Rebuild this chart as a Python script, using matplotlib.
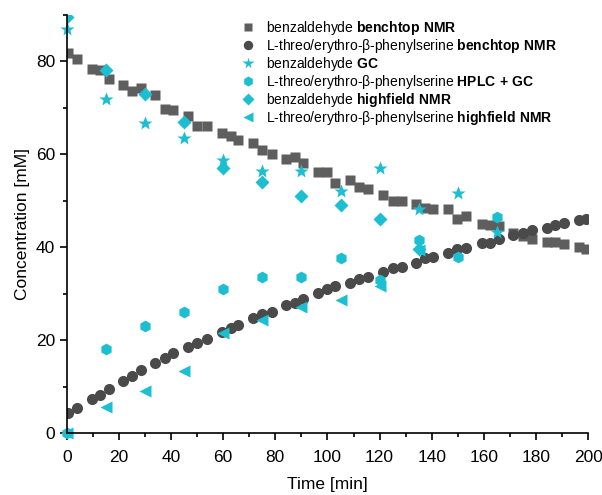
import matplotlib
matplotlib.use("Agg")
import matplotlib.pyplot as plt
from matplotlib.ticker import MultipleLocator

plt.rcParams['font.family'] = ['Liberation Sans', 'DejaVu Sans']
plt.rcParams['mathtext.fontset'] = 'custom'
plt.rcParams['mathtext.rm'] = 'Liberation Sans'
plt.rcParams['mathtext.bf'] = 'Liberation Sans:bold'

# benchtop NMR (time in min)
t_bench = [0.5, 4, 9.6, 12.7, 16, 21.5, 25, 28.5, 34, 37.6, 40.7, 46.5, 50, 53.6,
           59.7, 62.8, 65.8, 71.5, 75, 78.7, 84, 87.5, 90.6, 96.4, 99.8, 103,
           108.6, 112, 115.5, 121.3, 125, 128.6, 134, 137.4, 140.5, 146.2, 149.8,
           153.2, 159.3, 162.4, 165.8, 171.2, 175, 178.5, 184.3, 187.3, 190.8,
           196.5, 199]
benz_bench = [81.8, 80.5, 78.4, 78.2, 76.3, 75.0, 73.6, 74.3, 72.8, 69.8, 69.5, 68.2,
              66.0, 66.0, 64.6, 63.9, 63.1, 62.5, 61.0, 60.1, 59.0, 59.5, 58.2, 56.2,
              56.2, 53.9, 54.5, 53.0, 52.6, 51.3, 50.0, 50.0, 49.4, 48.5, 48.3, 48.2,
              46.1, 46.8, 45.0, 44.8, 44.6, 43.0, 42.5, 41.8, 41.2, 41.2, 40.7, 40.1, 39.7]
pser_bench = [4.3, 5.4, 7.3, 8.2, 9.5, 11.2, 12.3, 13.6, 15.1, 16.2, 17.2, 18.5, 19.4,
              20.3, 21.8, 22.6, 23.3, 24.8, 25.6, 26.1, 27.6, 28.0, 28.9, 30.2, 31.0,
              31.7, 32.4, 33.2, 33.6, 34.7, 35.5, 35.8, 36.6, 37.7, 37.9, 38.8, 39.7,
              39.9, 40.9, 41.0, 41.8, 42.7, 43.1, 43.8, 44.2, 44.8, 45.3, 45.9, 46.1]

# offline measurements
t_gc = [0, 15, 30, 45, 60, 75, 90, 105, 120, 135, 150, 165]
benz_gc = [87.0, 71.8, 66.8, 63.6, 58.8, 56.3, 56.3, 52.2, 57.1, 48.3, 51.7, 43.3]
pser_hplc = [0.0, 18.1, 23.1, 26.1, 31.0, 33.7, 33.7, 37.7, 33.0, 41.6, 37.9, 46.6]

t_hf = [0, 15, 30, 45, 60, 75, 90, 105, 120, 135]
benz_hf = [89.5, 78.1, 73.0, 66.9, 57.1, 54.0, 51.0, 49.0, 46.1, 39.7]
pser_hf = [0.0, 5.7, 9.1, 13.4, 21.5, 24.4, 27.2, 28.7, 31.7, 39.5]

labels = [
    r"benzaldehyde $\mathbf{benchtop\ NMR}$",
    r"L-threo/erythro-β-phenylserine $\mathbf{benchtop\ NMR}$",
    r"benzaldehyde $\mathbf{GC}$",
    r"L-threo/erythro-β-phenylserine $\mathbf{HPLC\ {+}\ GC}$",
    r"benzaldehyde $\mathbf{highfield\ NMR}$",
    r"L-threo/erythro-β-phenylserine $\mathbf{highfield\ NMR}$",
]

grey_sq = '#5e5e5e'
grey_c = '#4a4a4a'
cyan = '#1cbfd2'

fig = plt.figure(figsize=(6.02, 4.95), dpi=100)
ax = fig.add_axes([0.111, 0.125, 0.866, 0.845])

ax.plot(t_bench, benz_bench, 's', color=grey_sq, ms=7.5, mec='none', label=labels[0])
ax.plot(t_bench, pser_bench, 'o', color=grey_c, ms=8, mec='none', label=labels[1])
ax.plot(t_gc, benz_gc, '*', color=cyan, ms=10, mec='none', label=labels[2], clip_on=False)
ax.plot(t_gc, pser_hplc, 'h', color=cyan, ms=8.5, mec='none', label=labels[3], clip_on=False)
ax.plot(t_hf, benz_hf, 'D', color=cyan, ms=7, mec='none', label=labels[4])
ax.plot(t_hf, pser_hf, '<', color=cyan, ms=8.5, mec='none', label=labels[5], clip_on=False)

ax.set_xlim(0, 200)
ax.set_ylim(0, 90)
ax.xaxis.set_major_locator(MultipleLocator(20))
ax.xaxis.set_minor_locator(MultipleLocator(10))
ax.yaxis.set_major_locator(MultipleLocator(20))
ax.yaxis.set_minor_locator(MultipleLocator(10))
ax.tick_params(which='major', direction='out', length=5, width=1.2, labelsize=12.5)
ax.tick_params(axis='x', which='major', pad=7)
ax.tick_params(which='minor', direction='out', length=3, width=1.2)
for s in ['top', 'right']:
    ax.spines[s].set_visible(False)
for s in ['left', 'bottom']:
    ax.spines[s].set_linewidth(1.2)

ax.set_xlabel('Time [min]', fontsize=12.5, labelpad=9)
ax.set_ylabel('Concentration [mM]', fontsize=12.5)

fig.legend(loc='upper left', bbox_to_anchor=(0.400, 0.962), frameon=False,
           fontsize=10, handlelength=1.0, handletextpad=0.8, labelspacing=0.0,
           borderpad=0, borderaxespad=0, markerscale=0.85)

fig.savefig('out.png', dpi=100)
